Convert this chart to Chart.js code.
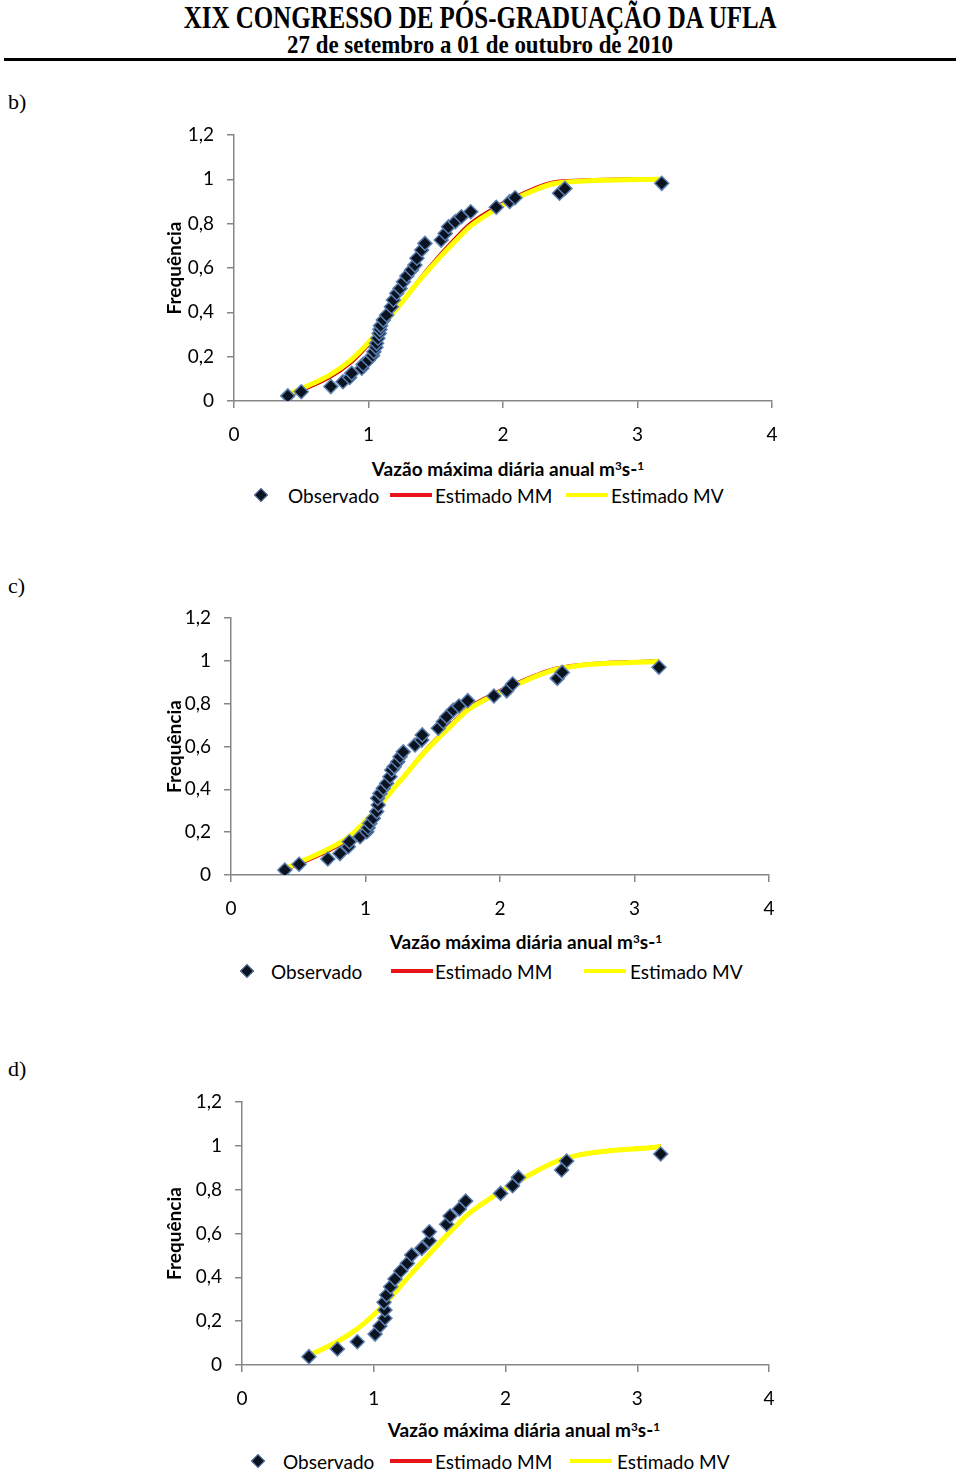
<!DOCTYPE html>
<html>
<head>
<meta charset="utf-8">
<script src="https://cdn.jsdelivr.net/npm/chart.js@4.4.0/dist/chart.umd.min.js"></script>
<style>
  body { margin: 0; background: #fff; width: 960px; height: 1473px; position: relative; overflow: hidden; font-family: Lato, sans-serif; }
  .hd { position: absolute; left: 0; width: 960px; text-align: center; font-family: "Liberation Serif", "Times New Roman", serif; font-weight: bold; white-space: nowrap; line-height: 1; }
  .hd span { display: inline-block; transform-origin: 50% 50%; }
  #rule { position: absolute; left: 4px; top: 58px; width: 952px; height: 3px; background: #000; }
  .lbl { position: absolute; left: 8px; font-family: "Liberation Serif", serif; font-size: 22px; line-height: 1; transform: translateY(-50%); }
  canvas { position: absolute; }
  .xt { position: absolute; font-weight: bold; font-size: 19px; white-space: nowrap; transform: translate(-50%, -50%); line-height: 1; }
  .xt sup { font-size: 0.62em; vertical-align: 0.5em; line-height: 0; }
  .lg { position: absolute; font-size: 19px; white-space: nowrap; transform: translateY(-50%); line-height: 1; }
  .dm { position: absolute; width: 8px; height: 8px; background: #0b1220; border: 1px solid #5b7fb0; transform: translate(-50%, -50%) rotate(45deg); }
  .ln { position: absolute; height: 4px; transform: translateY(-50%); }
</style>
</head>
<body>
<div class="hd" style="top:2px;font-size:31px"><span id="h1">XIX CONGRESSO DE PÓS-GRADUAÇÃO DA UFLA</span></div>
<div class="hd" style="top:32px;font-size:26px"><span id="h2">27 de setembro a 01 de outubro de 2010</span></div>
<div id="rule"></div>

<div class="lbl" style="top:102px">b)</div>
<div class="lbl" style="top:586px">c)</div>
<div class="lbl" style="top:1069px">d)</div>

<canvas id="cb"></canvas>
<canvas id="cc"></canvas>
<canvas id="cd"></canvas>

<script>
const xTickLabels = ["0", "1", "2", "3", "4"]
const yTickLabels = ["0", "0,2", "0,4", "0,6", "0,8", "1", "1,2"]
const seriesNames = ["Observado", "Estimado MM", "Estimado MV"]
const xTitle = "Vazão máxima diária anual m<sup>3</sup>s-<sup>1</sup>"
const yTitle = "Frequência"

// b)
const bObsX = [0.40, 0.50, 0.72, 0.81, 0.86, 0.875, 0.95, 0.96, 1.00, 1.03, 1.04, 1.055, 1.06, 1.07, 1.08, 1.085, 1.09, 1.11, 1.135, 1.17, 1.185, 1.21, 1.235, 1.26, 1.285, 1.32, 1.345, 1.36, 1.395, 1.42, 1.54, 1.57, 1.595, 1.645, 1.69, 1.76, 1.95, 2.05, 2.09, 2.42, 2.46, 3.18]
const bObsY = [0.023, 0.042, 0.065, 0.087, 0.106, 0.125, 0.148, 0.165, 0.185, 0.205, 0.222, 0.242, 0.260, 0.283, 0.305, 0.323, 0.340, 0.365, 0.388, 0.425, 0.456, 0.486, 0.508, 0.538, 0.564, 0.591, 0.613, 0.644, 0.681, 0.711, 0.726, 0.756, 0.786, 0.809, 0.831, 0.854, 0.874, 0.900, 0.917, 0.937, 0.959, 0.982]
const bLineX = [0.40, 0.50, 0.72, 0.87, 0.96, 1.04, 1.135, 1.23, 1.38, 1.53, 1.64, 1.76, 1.95, 2.09, 2.42, 3.18]
const bMM = [0.024, 0.046, 0.108, 0.172, 0.226, 0.282, 0.356, 0.432, 0.552, 0.660, 0.732, 0.803, 0.877, 0.922, 0.992, 1.003]
const bMV = [0.030, 0.055, 0.120, 0.185, 0.238, 0.292, 0.362, 0.432, 0.545, 0.648, 0.718, 0.790, 0.866, 0.912, 0.985, 1.000]

// c)
const cObsX = [0.40, 0.506, 0.72, 0.81, 0.872, 0.88, 0.96, 1.01, 1.02, 1.033, 1.058, 1.083, 1.095, 1.09, 1.108, 1.132, 1.157, 1.182, 1.195, 1.214, 1.24, 1.257, 1.281, 1.368, 1.418, 1.422, 1.541, 1.578, 1.604, 1.653, 1.695, 1.76, 1.955, 2.05, 2.094, 2.426, 2.463, 3.182]
const cObsY = [0.023, 0.05, 0.075, 0.10, 0.132, 0.155, 0.179, 0.202, 0.221, 0.241, 0.265, 0.296, 0.327, 0.358, 0.381, 0.405, 0.428, 0.459, 0.49, 0.506, 0.529, 0.552, 0.575, 0.607, 0.63, 0.654, 0.685, 0.716, 0.739, 0.77, 0.789, 0.814, 0.836, 0.86, 0.892, 0.918, 0.946, 0.97]
const cLineX = [0.40, 0.51, 0.72, 0.88, 1.01, 1.11, 1.21, 1.28, 1.42, 1.55, 1.65, 1.76, 1.955, 2.09, 2.43, 3.18]
const cMM = [0.024, 0.052, 0.110, 0.170, 0.250, 0.326, 0.405, 0.458, 0.566, 0.653, 0.714, 0.779, 0.848, 0.888, 0.968, 1.002]
const cMV = [0.030, 0.060, 0.120, 0.180, 0.258, 0.330, 0.405, 0.455, 0.560, 0.645, 0.705, 0.770, 0.840, 0.880, 0.962, 0.998]

// d)
const dObsX = [0.508, 0.724, 0.875, 1.01, 1.047, 1.085, 1.085, 1.078, 1.098, 1.128, 1.161, 1.205, 1.255, 1.288, 1.364, 1.422, 1.422, 1.553, 1.579, 1.65, 1.698, 1.963, 2.054, 2.098, 2.426, 2.464, 3.178]
const dObsY = [0.038, 0.073, 0.106, 0.141, 0.178, 0.213, 0.251, 0.286, 0.319, 0.357, 0.392, 0.429, 0.464, 0.502, 0.532, 0.567, 0.608, 0.642, 0.68, 0.712, 0.748, 0.783, 0.818, 0.856, 0.89, 0.931, 0.963]
const dLineX = [0.51, 0.72, 0.875, 1.01, 1.085, 1.16, 1.29, 1.42, 1.55, 1.65, 1.70, 1.96, 2.10, 2.44, 3.18]
const dMM = [0.043, 0.103, 0.163, 0.233, 0.279, 0.330, 0.421, 0.507, 0.592, 0.652, 0.683, 0.792, 0.842, 0.942, 0.999]
const dMV = [0.045, 0.105, 0.165, 0.235, 0.280, 0.330, 0.420, 0.505, 0.590, 0.650, 0.680, 0.790, 0.840, 0.940, 0.997]

const toPts = (xs, ys) => xs.map((x, i) => ({ x, y: ys[i] }))

// squeeze the header lines to the width they have in the proceedings
function fitHeader(id, target) {
  const el = document.getElementById(id)
  const w = el.getBoundingClientRect().width
  el.style.transform = `scaleX(${target / w})`
}

function addText(cls, html, left, top) {
  const d = document.createElement("div")
  d.className = cls
  d.innerHTML = html
  d.style.left = left + "px"
  d.style.top = top + "px"
  document.body.appendChild(d)
  return d
}

function addLegend(lg) {
  const dm = document.createElement("div")
  dm.className = "dm"
  dm.style.left = lg.dia + "px"
  dm.style.top = lg.y + "px"
  document.body.appendChild(dm)
  addText("lg", seriesNames[0], lg.t0, lg.y)
  const r = document.createElement("div")
  r.className = "ln"
  r.style.cssText = `left:${lg.l1}px;top:${lg.y}px;width:42px;background:#e8141a`
  document.body.appendChild(r)
  addText("lg", seriesNames[1], lg.t1, lg.y)
  const yl = document.createElement("div")
  yl.className = "ln"
  yl.style.cssText = `left:${lg.l2}px;top:${lg.y}px;width:42px;background:#ffff00`
  document.body.appendChild(yl)
  addText("lg", seriesNames[2], lg.t2, lg.y)
}

function drawPanel(p) {
  const canvas = document.getElementById(p.id)
  const left = 150, top = p.T - 25
  const width = p.R + 25 - left, height = p.B + 45 - top
  canvas.width = width
  canvas.height = height
  canvas.style.left = left + "px"
  canvas.style.top = top + "px"

  const axisColor = "#868686"
  new Chart(canvas.getContext("2d"), {
    type: "scatter",
    data: {
      datasets: [
        {
          label: seriesNames[0],
          data: toPts(p.obsX, p.obsY),
          pointStyle: "rectRot",
          pointRadius: 7,
          pointBorderWidth: 1.5,
          backgroundColor: "#0b1220",
          borderColor: "#5b7fb0",
          order: 0,
        },
        {
          label: seriesNames[1],
          data: toPts(p.lineX, p.mm),
          showLine: true,
          pointRadius: 0,
          borderColor: "#d40000",
          borderWidth: 3,
          cubicInterpolationMode: "monotone",
          order: 2,
        },
        {
          label: seriesNames[2],
          data: toPts(p.lineX, p.mv),
          showLine: true,
          pointRadius: 0,
          borderColor: "#ffff00",
          borderWidth: 5,
          cubicInterpolationMode: "monotone",
          order: 1,
        },
      ],
    },
    options: {
      responsive: false,
      animation: false,
      devicePixelRatio: 1,
      layout: { padding: { top: 25, right: 25, left: 0, bottom: 0 } },
      plugins: { legend: { display: false }, tooltip: { enabled: false } },
      scales: {
        x: {
          type: "linear",
          min: 0,
          max: 4,
          afterFit: (s) => { s.height = 45 },
          ticks: { stepSize: 1, padding: 15, color: "#000", font: { family: "Lato", size: 19 }, callback: (v, i) => xTickLabels[i] },
          grid: { drawOnChartArea: false, tickLength: 7, color: axisColor, lineWidth: 1.5 },
          border: { color: axisColor, width: 1.5 },
        },
        y: {
          min: 0,
          max: 1.2,
          afterFit: (s) => { s.width = p.L - left },
          ticks: { stepSize: 0.2, padding: 13, color: "#000", font: { family: "Lato", size: 19 }, callback: (v, i) => yTickLabels[i] },
          grid: { drawOnChartArea: false, tickLength: 7, color: axisColor, lineWidth: 1.5 },
          border: { color: axisColor, width: 1.5 },
          title: { display: true, text: yTitle, color: "#000", padding: { top: 13, bottom: 0 }, font: { family: "Lato", size: 19, weight: "bold" } },
        },
      },
    },
  })

  addText("xt", xTitle, p.xtX, p.xtY)
  addLegend(p.lg)
}

fitHeader("h1", 593)
fitHeader("h2", 386)

drawPanel({ id: "cb", L: 234, R: 772, T: 135, B: 401, obsX: bObsX, obsY: bObsY, lineX: bLineX, mm: bMM, mv: bMV,
  xtX: 508, xtY: 468, lg: { y: 495, dia: 261, t0: 288, l1: 390, t1: 435, l2: 566, t2: 611 } })
drawPanel({ id: "cc", L: 231, R: 769, T: 618, B: 875, obsX: cObsX, obsY: cObsY, lineX: cLineX, mm: cMM, mv: cMV,
  xtX: 526, xtY: 941, lg: { y: 971, dia: 247, t0: 271, l1: 391, t1: 435, l2: 584, t2: 630 } })
drawPanel({ id: "cd", L: 242, R: 769, T: 1102, B: 1365, obsX: dObsX, obsY: dObsY, lineX: dLineX, mm: dMM, mv: dMV,
  xtX: 524, xtY: 1429, lg: { y: 1461, dia: 258, t0: 283, l1: 390, t1: 435, l2: 570, t2: 617 } })
</script>
</body>
</html>
